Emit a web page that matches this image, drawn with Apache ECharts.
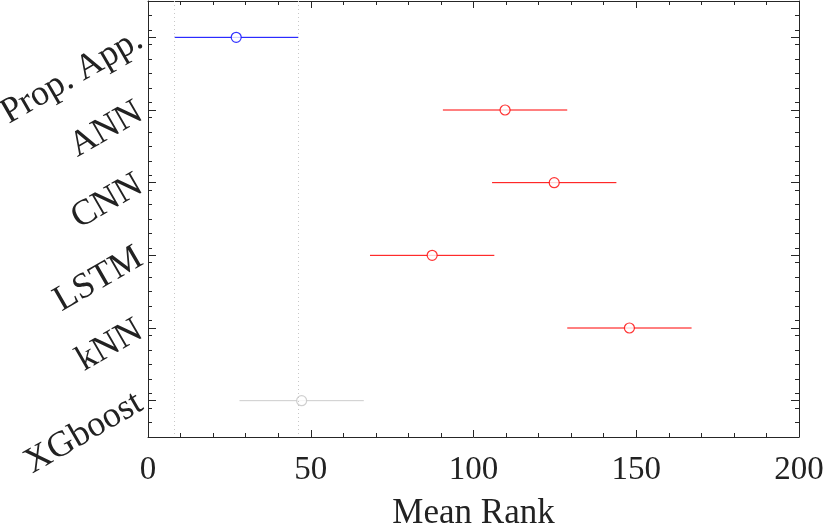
<!DOCTYPE html>
<html>
<head>
<meta charset="utf-8">
<script src="https://cdn.jsdelivr.net/npm/echarts@6/dist/echarts.min.js"></script>
<style>
html,body{margin:0;padding:0;background:#fff;}
#main{width:830px;height:525px;}
</style>
</head>
<body>
<div id="main"></div>
<script>
const categories = ['Prop. App.', 'ANN', 'CNN', 'LSTM', 'kNN', 'XGboost'];
const meanRank = [27.1, 109.7, 124.8, 87.3, 147.9, 47.2];
const lowerBound = [8.0, 90.6, 105.7, 68.2, 128.8, 28.1];
const upperBound = [46.2, 128.8, 143.9, 106.4, 167.0, 66.3];
const groupColors = ['#0000ff', '#ff0000', '#ff0000', '#ff0000', '#ff0000', '#cccccc'];
const markerColors = ['#0000ff', '#ff0000', '#ff0000', '#ff0000', '#ff0000', '#c4c4c4'];
const xTicks = [0, 50, 100, 150, 200];
const refLines = [lowerBound[0], upperBound[0]];

const FONT = "'Liberation Serif', 'Times New Roman', Times, serif";
const AX = '#262626';

const chart = echarts.init(document.getElementById('main'), null, {renderer: 'canvas'});

const minorY = (pos) => ({
  type: 'value', position: pos, min: 0, max: 30, interval: 1,
  axisLine: {show: false},
  axisTick: {show: true, inside: true, length: 4, lineStyle: {color: AX, width: 1}},
  axisLabel: {show: false}, splitLine: {show: false}
});
const majorY = (pos, showLabel) => ({
  type: 'category', position: pos, data: categories, inverse: true,
  boundaryGap: true,
  axisLine: {show: true, lineStyle: {color: AX, width: 1}},
  axisTick: {show: true, inside: true, length: 8, alignWithLabel: true, lineStyle: {color: AX, width: 1}},
  axisLabel: {show: showLabel, rotate: 30, margin: 8, fontFamily: FONT, fontSize: 36, color: '#222'},
  splitLine: {show: false}
});
const xAx = (pos, showLabel) => ({
  type: 'value', position: pos, min: xTicks[0], max: xTicks[xTicks.length - 1], interval: 50,
  axisLine: {show: true, onZero: false, lineStyle: {color: AX, width: 1}},
  axisTick: {show: true, inside: true, length: 7, lineStyle: {color: AX, width: 1}},
  minorTick: {show: true, splitNumber: 5, length: 4, lineStyle: {color: AX, width: 1}},
  axisLabel: {show: showLabel, margin: 17, fontFamily: FONT, fontSize: 33, color: '#222'},
  splitLine: {show: false},
  name: showLabel ? 'Mean Rank' : '',
  nameLocation: 'middle', nameGap: 59,
  nameTextStyle: {fontFamily: FONT, fontSize: 35, color: '#222'}
});

const barData = categories.map((c, i) => ({
  value: [lowerBound[i], upperBound[i], c],
  itemStyle: {color: groupColors[i]}
}));
const pointData = categories.map((c, i) => ({
  value: [meanRank[i], c],
  itemStyle: {color: '#ffffff', borderColor: markerColors[i], borderWidth: 1.2}
}));

chart.setOption({
  animation: false,
  backgroundColor: '#fff',
  grid: {left: 148, right: 31, top: 1, bottom: 88, containLabel: false, outerBoundsMode: 'none'},
  xAxis: [xAx('bottom', true), xAx('top', false)],
  yAxis: [majorY('left', true), minorY('left'), majorY('right', false), minorY('right')],
  series: [
    {
      type: 'custom',
      xAxisIndex: 0, yAxisIndex: 0,
      encode: {x: [0, 1], y: 2},
      data: barData,
      renderItem: function (params, api) {
        const yi = api.value(2);
        const p1 = api.coord([api.value(0), yi]);
        const p2 = api.coord([api.value(1), yi]);
        return {
          type: 'line',
          shape: {x1: p1[0], y1: p1[1], x2: p2[0], y2: p2[1]},
          style: {stroke: api.visual('color'), lineWidth: 1}
        };
      },
      z: 2
    },
    {
      type: 'scatter',
      xAxisIndex: 0, yAxisIndex: 0,
      symbol: 'circle', symbolSize: 10,
      data: pointData,
      markLine: {
        silent: true, symbol: 'none', label: {show: false},
        lineStyle: {color: '#c8c8c8', type: [1, 3], width: 1},
        data: refLines.map(v => ({xAxis: v}))
      },
      z: 3
    }
  ]
});
</script>
</body>
</html>
